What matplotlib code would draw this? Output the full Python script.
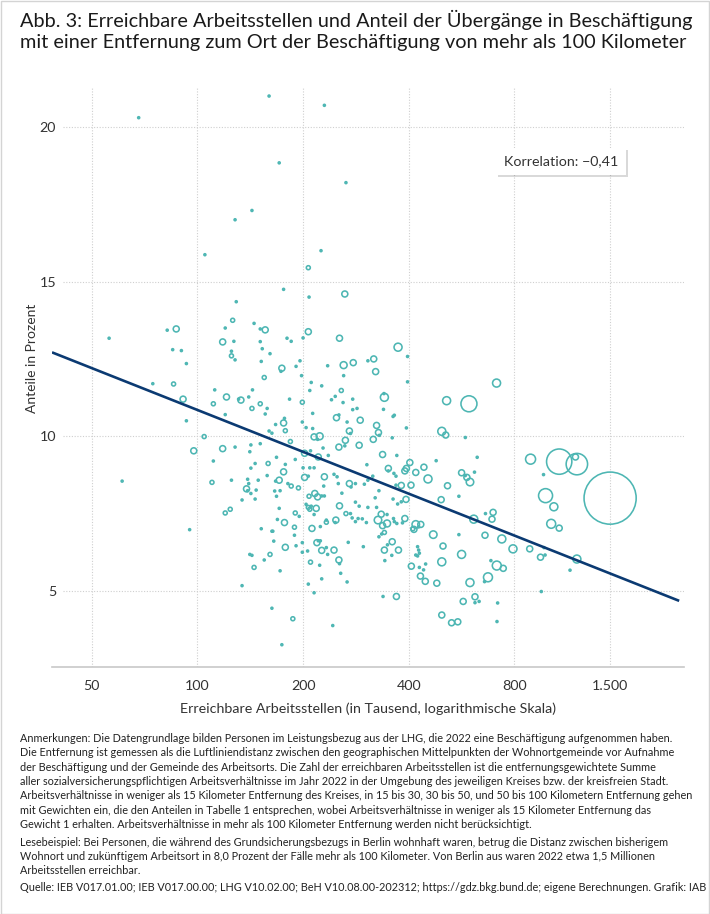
"""
Abb. 3: Erreichbare Arbeitsstellen vs. Anteil der Übergänge mit > 100 km Entfernung.
Streudiagramm mit Kreisgröße nach Fallzahl, logarithmische x-Achse, Regressionsgerade.
"""

import numpy as np
import matplotlib
matplotlib.use("Agg")
import matplotlib.pyplot as plt
from matplotlib import patheffects
from matplotlib.patches import Rectangle

FONT = ["Lato", "DejaVu Sans"]
matplotlib.rcParams["font.family"] = FONT

# Erreichbare Arbeitsstellen (in Tausend)
arbeitsstellen = [
    68, 160, 230, 171, 265, 143, 128, 105, 225, 207,
    263, 176, 208, 129, 56, 82, 87, 85, 90, 93,
    126, 120, 118, 127, 125, 125, 128, 145, 151, 156,
    151, 153, 161, 152, 155, 180, 185, 200, 207, 196,
    174, 173, 191, 198, 235, 254, 261, 278, 261,
    74.6, 85.5, 91, 112, 121, 111, 120, 93, 104.5, 97.6,
    111, 118, 128, 131, 133, 140, 143.5, 143, 151, 158,
    156, 142, 141, 151, 146, 142, 159, 160, 163, 167,
    176, 177, 178, 184, 183, 199, 199, 204, 213, 213,
    215, 223, 220, 228, 202, 210, 221, 190, 168, 178,
    200, 209, 215, 209, 226, 211,
    373, 397, 397, 318, 306, 322, 712, 340, 341, 513,
    594, 339, 361, 364, 324, 328, 330, 317, 359, 394,
    497, 510, 580, 627, 337, 370, 403, 304, 479, 442,
    350, 394, 257, 241, 247, 260, 277, 277, 285, 249,
    253, 267, 291, 271, 273, 264, 253, 263, 289, 236,
    110, 125, 139, 140, 138, 139, 142, 147, 146, 134,
    149, 158, 167, 171, 176, 166, 168, 172, 181, 185,
    194, 202, 207, 230, 229, 208, 216, 220, 226, 230,
    204, 207, 209, 211, 218, 215, 120, 124, 171, 169,
    177, 190, 195, 189, 189, 212, 224, 233, 152, 163,
    164, 165, 178, 191, 199, 219, 221, 224, 226, 235,
    141, 143, 161, 155, 145, 172, 199, 206, 210, 223,
    226, 207, 215, 134, 95, 163, 187, 174,
    245, 250, 316, 350, 363, 368, 390, 419, 566, 580,
    586, 598, 616, 454, 516, 556, 495, 252, 271, 274,
    282, 299, 306, 329, 258, 368, 381, 406, 282, 289,
    306, 324, 321, 361, 372, 381, 393, 254, 265, 273,
    276, 282, 287, 295, 303, 233, 248, 247, 334, 347,
    327, 337, 347, 362, 364, 370, 384, 390, 419, 427,
    433, 414, 411, 329, 335, 341, 269, 297, 233, 245,
    348, 359, 374, 341, 358, 342, 424, 427, 424, 419,
    429, 470, 501, 556, 566, 497, 253, 254, 256, 267,
    407, 429, 441, 447, 432, 446, 481, 598, 662, 613,
    696, 691, 660, 737, 686, 713, 744, 673, 658, 338,
    369, 572, 618, 618, 635, 717, 497, 530, 552, 714,
    243,
    890, 1074, 1206, 1195, 969, 982, 1037, 1019, 1074, 1500,
    793, 885, 972, 950, 979, 1206, 1153, 955,
    61,
]

# Anteil der Übergänge mit mehr als 100 km Entfernung (in Prozent)
anteil = [
    20.3, 21.0, 20.7, 18.84, 18.2, 17.3, 17.0, 15.87, 16.0, 15.45,
    14.6, 14.75, 14.5, 14.35, 13.17, 13.43, 13.47, 12.8, 12.77, 12.35,
    13.75, 13.5, 13.05, 13.07, 12.75, 12.6, 12.47, 13.65, 13.47, 13.44,
    13.06, 12.83, 12.67, 12.42, 11.9, 13.17, 13.07, 13.18, 13.38, 12.44,
    12.2, 12.1, 12.26, 11.96, 12.28, 13.17, 12.3, 12.38, 11.96,
    11.7, 11.69, 11.2, 11.5, 11.27, 11.05, 10.7, 10.5, 9.99, 9.53,
    9.2, 9.6, 9.65, 11.2, 11.17, 11.27, 11.5, 10.9, 11.05, 10.9,
    10.72, 9.72, 9.5, 9.76, 9.12, 8.97, 9.12, 10.17, 10.1, 10.38,
    10.43, 10.58, 10.18, 9.83, 11.2, 11.1, 10.46, 10.28, 10.74, 10.25,
    9.98, 10.0, 9.9, 9.62, 9.45, 9.53, 9.33, 9.25, 9.32, 9.09,
    8.98, 8.98, 8.98, 11.48, 11.63, 11.74,
    12.88, 12.58, 11.76, 12.5, 12.44, 12.09, 11.72, 11.38, 11.26, 11.15,
    11.05, 10.87, 10.64, 10.68, 10.35, 10.12, 10.03, 9.9, 9.95, 10.27,
    10.16, 10.04, 9.96, 9.32, 9.41, 9.38, 9.15, 9.08, 9.21, 9.0,
    8.96, 8.96, 11.48, 11.18, 11.29, 11.09, 11.2, 10.86, 10.9, 10.6,
    10.69, 10.46, 10.52, 10.17, 10.09, 9.87, 9.65, 9.69, 9.71, 9.38,
    8.51, 8.58, 8.61, 8.47, 8.3, 8.24, 8.15, 8.26, 7.97, 7.94,
    8.58, 8.73, 8.55, 8.58, 8.85, 8.23, 8.06, 8.24, 8.47, 8.39,
    8.33, 8.67, 8.71, 8.69, 8.39, 8.06, 8.15, 8.04, 8.07, 8.07,
    7.8, 7.7, 7.64, 7.74, 7.67, 7.47, 7.52, 7.64, 7.67, 7.31,
    7.21, 7.52, 7.41, 7.06, 6.8, 7.02, 7.08, 7.22, 7.01, 6.93,
    6.93, 6.61, 6.41, 6.46, 6.56, 6.56, 6.62, 6.62, 6.31, 6.18,
    6.18, 6.15, 6.18, 6.0, 5.76, 5.65, 6.25, 6.29, 5.93, 5.83,
    5.39, 5.22, 4.94, 5.17, 6.98, 4.44, 4.1, 3.26,
    8.77, 8.69, 8.71, 8.88, 8.8, 8.71, 8.88, 8.83, 8.82, 8.73,
    8.67, 8.52, 8.84, 8.62, 8.4, 8.06, 7.95, 8.47, 8.47, 8.36,
    8.47, 8.45, 8.58, 8.24, 8.16, 8.42, 8.41, 8.42, 7.87, 7.74,
    7.7, 7.7, 8.01, 7.97, 7.81, 7.88, 7.96, 7.75, 7.5, 7.5,
    7.36, 7.24, 7.34, 7.33, 7.21, 7.29, 7.29, 7.21, 7.48, 7.47,
    7.29, 7.11, 7.18, 7.34, 7.24, 7.18, 7.2, 7.34, 7.15, 7.07,
    7.15, 6.99, 7.01, 6.75, 6.84, 6.89, 6.57, 6.43, 6.4, 6.32,
    6.49, 6.59, 6.32, 6.32, 6.15, 5.98, 6.43, 6.32, 6.13, 6.16,
    6.22, 6.82, 6.45, 6.82, 6.18, 5.94, 6.0, 5.88, 5.57, 5.29,
    5.8, 5.76, 5.68, 5.87, 5.48, 5.31, 5.25, 5.27, 7.5, 7.32,
    7.54, 7.32, 6.8, 6.68, 5.98, 5.82, 5.73, 5.44, 5.3, 4.82,
    4.82, 4.66, 4.81, 4.62, 4.66, 4.61, 4.22, 3.97, 4.0, 4.01,
    3.88,
    9.26, 9.18, 9.1, 9.33, 8.76, 8.08, 7.72, 7.17, 7.03, 8.0,
    6.36, 6.36, 6.4, 6.09, 6.16, 6.03, 5.67, 4.98,
    8.55,
]

# Fallzahl (relative Einheiten, Kreisfläche proportional)
faelle = [
    1, 1, 1, 1, 1, 1, 1, 1, 1, 4,
    9, 1, 1, 1, 1, 1, 9, 1, 1, 1,
    4, 1, 9, 1, 1, 4, 1, 1, 1, 9,
    1, 1, 1, 1, 4, 1, 1, 1, 9, 1,
    9, 1, 1, 1, 1, 9, 12, 9, 1,
    1, 4, 9, 1, 9, 4, 1, 1, 4, 9,
    1, 9, 1, 1, 9, 1, 1, 4, 4, 1,
    1, 1, 1, 1, 1, 1, 4, 1, 1, 1,
    9, 1, 4, 4, 1, 4, 1, 1, 1, 1,
    9, 12, 1, 1, 9, 1, 9, 1, 1, 1,
    1, 1, 1, 1, 1, 1,
    16, 1, 1, 9, 1, 9, 16, 1, 16, 16,
    64, 1, 1, 1, 9, 9, 1, 9, 1, 1,
    16, 9, 1, 1, 9, 1, 9, 1, 1, 9,
    9, 9, 4, 1, 1, 1, 1, 1, 1, 9,
    1, 1, 9, 9, 1, 9, 9, 1, 9, 1,
    4, 1, 1, 1, 9, 1, 1, 1, 1, 1,
    1, 1, 1, 9, 9, 1, 1, 1, 1, 4,
    4, 9, 1, 9, 1, 4, 9, 9, 1, 1,
    1, 4, 4, 1, 9, 1, 4, 4, 1, 1,
    9, 4, 1, 4, 1, 9, 1, 4, 1, 1,
    1, 1, 9, 1, 1, 9, 1, 1, 9, 1,
    1, 1, 4, 1, 4, 1, 1, 1, 4, 1,
    1, 1, 1, 1, 1, 1, 4, 1,
    1, 1, 1, 1, 1, 1, 9, 9, 9, 1,
    9, 14, 1, 16, 9, 1, 9, 1, 9, 1,
    1, 1, 1, 1, 1, 1, 9, 9, 1, 1,
    1, 1, 1, 1, 1, 1, 9, 9, 4, 1,
    1, 1, 1, 1, 1, 1, 9, 1, 9, 1,
    14, 9, 12, 1, 1, 1, 1, 9, 14, 1,
    9, 9, 4, 1, 1, 4, 1, 1, 1, 9,
    1, 9, 9, 9, 1, 1, 1, 1, 1, 1,
    1, 14, 9, 1, 16, 16, 9, 1, 1, 1,
    9, 1, 1, 1, 9, 9, 9, 16, 1, 16,
    9, 9, 9, 16, 1, 20, 9, 20, 1, 1,
    9, 9, 9, 1, 1, 1, 9, 9, 9, 1,
    1,
    25, 160, 115, 9, 1, 49, 16, 20, 9, 680,
    16, 9, 1, 9, 1, 16, 1, 1,
    1,
]

# Regressionsgerade: Anteil = a + b * log10(Arbeitsstellen)
REG_A = 19.84
REG_B = -4.495
REG_X = [38.5, 2360]

x_ticks = [50, 100, 200, 400, 800, 1500]
x_ticklabels = ["50", "100", "200", "400", "800", "1.500"]
y_ticks = [5, 10, 15, 20]

TEAL = "#4db6b3"
NAVY = "#0b3a72"
GRID = "#cfcfcf"
TEXT = "#333333"

W, H = 710, 914
fig = plt.figure(figsize=(W / 100, H / 100), dpi=100)
ax = fig.add_axes([52 / W, 1 - 667 / H, 632 / W, (667 - 88) / H])

ax.set_xscale("log")
ax.set_xlim(38.5, 2436)
ax.set_ylim(2.54, 21.26)

# Gitter
for xt in x_ticks:
    ax.axvline(xt, color=GRID, lw=0.8, ls=(0, (1, 1.5)), zorder=0)
for yt in y_ticks:
    ax.axhline(yt, xmin=11 / 632, xmax=1, color=GRID, lw=0.8, ls=(0, (1, 1.5)), zorder=0)

# Punkte
s = np.array(faelle) * 2.07
ax.scatter(arbeitsstellen, anteil, s=s, facecolors="none", edgecolors=TEAL,
           linewidths=1.15, zorder=3)

# Regressionsgerade
reg_x = np.geomspace(REG_X[0], REG_X[1], 50)
reg_y = REG_A + REG_B * np.log10(reg_x)
ax.plot(reg_x, reg_y, color=NAVY, lw=1.9, zorder=4, solid_capstyle="butt")

ax.set_xticks(x_ticks)
ax.set_xticklabels(x_ticklabels)
ax.minorticks_off()
ax.set_yticks(y_ticks)
ax.tick_params(axis="both", length=0, labelsize=10.3, colors=TEXT)
ax.tick_params(axis="x", pad=9)
ax.tick_params(axis="y", pad=-3)
for sp in ["top", "right", "left"]:
    ax.spines[sp].set_visible(False)
ax.spines["bottom"].set_color("#c8c8c8")
ax.spines["bottom"].set_linewidth(1.2)

ax.set_xlabel("Erreichbare Arbeitsstellen (in Tausend, logarithmische Skala)",
              fontsize=10.3, color=TEXT, labelpad=8)
fig.text(32 / W, 1 - 358 / H, "Anteile in Prozent", rotation=90, fontsize=10.0,
         color=TEXT, ha="center", va="center")

# Korrelationsbox
t = fig.text(561 / W, 1 - 161.5 / H, "Korrelation: \u22120,41", fontsize=10.3,
             color=TEXT, ha="center", va="center", zorder=10,
             bbox=dict(boxstyle="square,pad=0.55", fc="white", ec="none"))
t.get_bbox_patch().set_path_effects(
    [patheffects.withSimplePatchShadow(offset=(1.5, -1.5), shadow_rgbFace="#000000", alpha=0.15)])

# Titel
fig.text(20 / W, 1 - 10 / H,
         "Abb. 3: Erreichbare Arbeitsstellen und Anteil der Übergänge in Beschäftigung\n"
         "mit einer Entfernung zum Ort der Beschäftigung von mehr als 100 Kilometer",
         fontsize=14.3, color="#1a1a1a", ha="left", va="top", linespacing=1.25)

# Anmerkungen
notes = [
    "Anmerkungen: Die Datengrundlage bilden Personen im Leistungsbezug aus der LHG, die 2022 eine Beschäftigung aufgenommen haben.",
    "Die Entfernung ist gemessen als die Luftliniendistanz zwischen den geographischen Mittelpunkten der Wohnortgemeinde vor Aufnahme",
    "der Beschäftigung und der Gemeinde des Arbeitsorts. Die Zahl der erreichbaren Arbeitsstellen ist die entfernungsgewichtete Summe",
    "aller sozialversicherungspflichtigen Arbeitsverhältnisse im Jahr 2022 in der Umgebung des jeweiligen Kreises bzw. der kreisfreien Stadt.",
    "Arbeitsverhältnisse in weniger als 15 Kilometer Entfernung des Kreises, in 15 bis 30, 30 bis 50, und 50 bis 100 Kilometern Entfernung gehen",
    "mit Gewichten ein, die den Anteilen in Tabelle 1 entsprechen, wobei Arbeitsverhältnisse in weniger als 15 Kilometer Entfernung das",
    "Gewicht 1 erhalten. Arbeitsverhältnisse in mehr als 100 Kilometer Entfernung werden nicht berücksichtigt.",
    "Lesebeispiel: Bei Personen, die während des Grundsicherungsbezugs in Berlin wohnhaft waren, betrug die Distanz zwischen bisherigem",
    "Wohnort und zukünftigem Arbeitsort in 8,0 Prozent der Fälle mehr als 100 Kilometer. Von Berlin aus waren 2022 etwa 1,5 Millionen",
    "Arbeitsstellen erreichbar.",
    "Quelle: IEB V017.01.00; IEB V017.00.00; LHG V10.02.00; BeH V10.08.00-202312; https://gdz.bkg.bund.de; eigene Berechnungen. Grafik: IAB",
]
note_y = [738.3, 752.7, 767.1, 781.5, 795.9, 810.3, 824.7, 842.7, 857.0, 871.0, 887.7]
for line, yy in zip(notes, note_y):
    fig.text(20 / W, 1 - yy / H, line, fontsize=7.8, color="#222222",
             ha="left", va="center")

# Rahmen
fig.patches.append(Rectangle((0.5 / W, 0.5 / H), 1 - 1.5 / W, 1 - 1.5 / H,
                             transform=fig.transFigure, fill=False,
                             ec="#d4d4d4", lw=1.0))

fig.savefig("out.png", dpi=100)
